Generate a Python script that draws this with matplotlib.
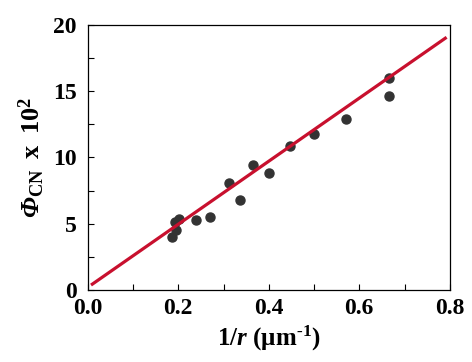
import numpy as np
import matplotlib
matplotlib.use("Agg")
import matplotlib.pyplot as plt
from matplotlib.ticker import MultipleLocator, FormatStrFormatter

# data
inv_r = [0.185, 0.194, 0.192, 0.202, 0.239, 0.271, 0.311, 0.336, 0.365,
         0.401, 0.446, 0.500, 0.570, 0.666, 0.666]
phi_cn = [4.0, 4.5, 5.15, 5.35, 5.3, 5.5, 8.05, 6.8, 9.45,
          8.85, 10.9, 11.75, 12.9, 16.0, 14.65]
fit_x = [0.01, 0.79]
fit_slope = 23.8
fit_icpt = 0.2

plt.rcParams['font.family'] = ['Liberation Serif', 'DejaVu Serif']
plt.rcParams['font.weight'] = 'bold'
plt.rcParams['mathtext.fontset'] = 'custom'
plt.rcParams['mathtext.rm'] = 'Liberation Serif:bold:italic'
plt.rcParams['mathtext.it'] = 'Liberation Serif:bold:italic'
plt.rcParams['mathtext.bf'] = 'Liberation Serif:bold'
plt.rcParams['mathtext.sf'] = 'Liberation Serif'

fig = plt.figure(figsize=(4.72, 3.62), dpi=100)
ax = fig.add_axes([0.186, 0.199, 0.767, 0.732])

fx = np.array(fit_x)
ax.plot(fx, fit_icpt + fit_slope * fx, color='#c8102e', lw=2.3, zorder=3)
ax.plot(inv_r, phi_cn, 'o', color='#333333', ms=6.5, zorder=2)

ax.set_xlim(0, 0.8)
ax.set_ylim(0, 20)
ax.xaxis.set_major_locator(MultipleLocator(0.2))
ax.xaxis.set_minor_locator(MultipleLocator(0.1))
ax.xaxis.set_major_formatter(FormatStrFormatter('%.1f'))
ax.yaxis.set_major_locator(MultipleLocator(5))
ax.yaxis.set_minor_locator(MultipleLocator(2.5))
ax.tick_params(which='both', direction='in', length=4, width=0.8)
ax.tick_params(axis='y', labelsize=17, pad=8)
ax.tick_params(axis='x', labelsize=17, pad=6)
for lab in ax.get_xticklabels() + ax.get_yticklabels():
    lab.set_fontweight('bold')
for s in ax.spines.values():
    s.set_linewidth(0.9)

ax.set_xlabel(r'$\mathbf{1/}r\ \mathbf{(\mu m^{\text{-}1})}$', fontsize=18, labelpad=3)
ax.set_ylabel(r'$\Phi_{\mathsf{CN}}\;\;\mathbf{x}\;\;\mathbf{10^{2}}$',
              fontsize=19, labelpad=4)

fig.savefig('out.png', dpi=100)
